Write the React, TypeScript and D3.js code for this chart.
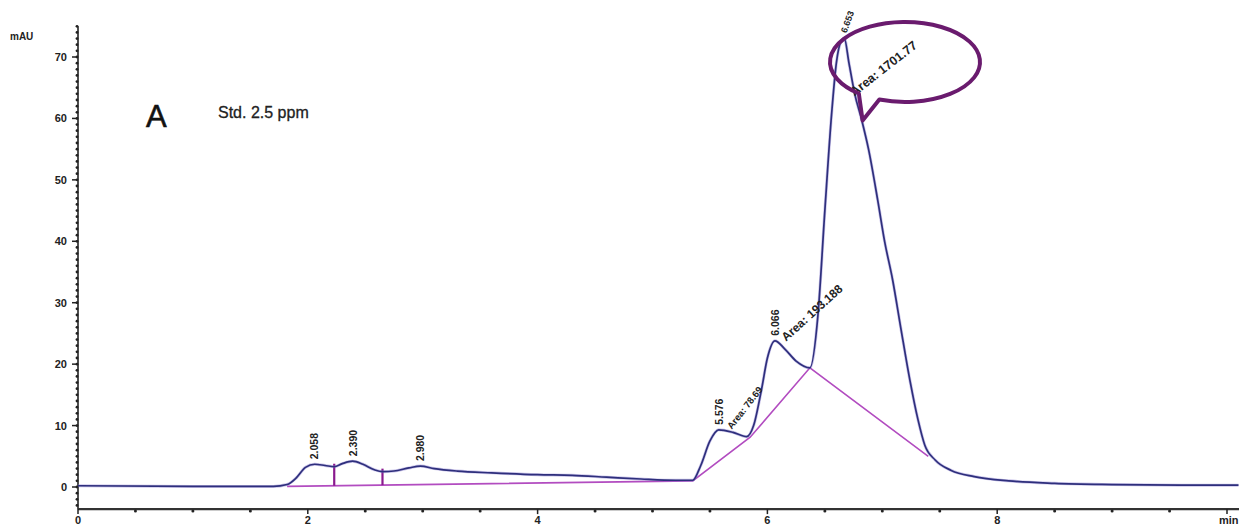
import React from "react";
import * as d3 from "d3";

// ---- data ----
const traceTime = [
  0, 1.0, 1.7, 1.82, 1.9, 1.98, 2.06, 2.15, 2.23, 2.3, 2.39, 2.48, 2.58, 2.65, 2.75, 2.88, 2.98,
  3.1, 3.3, 3.6, 4.0, 4.3, 4.6, 4.9, 5.2, 5.35, 5.42, 5.5, 5.576, 5.7, 5.82, 5.88, 5.95, 6.0,
  6.066, 6.15, 6.25, 6.37, 6.44, 6.5, 6.56, 6.6, 6.64, 6.67, 6.71, 6.76, 6.82, 6.88, 6.96,
  7.02, 7.09, 7.16, 7.24, 7.31, 7.37, 7.46, 7.6, 7.8, 8.1, 8.5, 9.0, 9.6, 10.1,
];
const traceSignal = [
  0.2, 0.1, 0.1, 0.4, 1.5, 3.2, 3.7, 3.5, 3.3, 3.8, 4.2, 3.7, 2.8, 2.5, 2.6, 3.1, 3.4,
  3.0, 2.6, 2.3, 2.0, 1.9, 1.6, 1.3, 1.1, 1.1, 3.5, 7.5, 9.3, 8.9, 8.2, 10, 16, 21,
  23.8, 22.5, 20.5, 19.4, 28, 45, 61, 69, 72.5, 73, 69, 64, 59.8, 55, 46.7,
  40, 33.7, 26, 17.4, 11, 6.8, 4.4, 2.7, 1.7, 1.0, 0.6, 0.4, 0.3, 0.3,
];

// integration baselines (purple)
const baselineTime = [1.82, 5.35, 5.85, 6.37, 7.4];
const baselineSignal = [0.1, 1.0, 8.1, 19.4, 5.0];
// peak split drop lines
const dropTimes = [2.23, 2.65];

const retentionTimes = [2.058, 2.39, 2.98, 5.576, 6.066, 6.653];
const retentionLabels = ["2.058", "2.390", "2.980", "5.576", "6.066", "6.653"];
const peakHeights = [3.7, 4.2, 3.4, 9.3, 23.8, 73];
const areaPeakIndex = [3, 4, 5];
const areaLabels = ["Area: 78.69", "Area: 193.188", "Area: 1701.77"];

const yMajorTicks = [0, 10, 20, 30, 40, 50, 60, 70];
const xMajorTicks = [0, 2, 4, 6, 8, 10];
const xTickLabels = ["0", "2", "4", "6", "8", "min"];

const W = 1239;
const H = 528;

export default function App() {
  const x = d3.scaleLinear().domain([0, 10.1]).range([78, 78 + 114.9 * 10.1]);
  const y = d3.scaleLinear().domain([0, 70]).range([487, 57]);

  const axisY = y(-3.6);
  const axisTop = y(75);

  const trace = traceTime.map((t, i) => [t, traceSignal[i]] as [number, number]);
  const line = d3
    .line<[number, number]>()
    .x((d) => x(d[0]))
    .y((d) => y(d[1]))
    .curve(d3.curveMonotoneX);

  const base = baselineTime.map((t, i) => [t, baselineSignal[i]] as [number, number]);
  const baseLine = d3
    .line<[number, number]>()
    .x((d) => x(d[0]))
    .y((d) => y(d[1]));

  const interp = (arrT: number[], arrV: number[], t: number) => {
    for (let i = 0; i < arrT.length - 1; i++) {
      if (t >= arrT[i] && t <= arrT[i + 1]) {
        const f = (t - arrT[i]) / (arrT[i + 1] - arrT[i]);
        return arrV[i] + f * (arrV[i + 1] - arrV[i]);
      }
    }
    return arrV[arrV.length - 1];
  };

  const yMinor = d3.range(-3, 76, 1);
  const xMinor = d3.range(0.5, 10.1, 0.5).filter((v) => Math.abs(v % 2) > 0.01);

  // speech bubble
  const cx = 905, cy = 62, rx = 75, ry = 40;
  const a1 = (110 * Math.PI) / 180;
  const a2 = (128 * Math.PI) / 180;
  const pt = (a: number) => [cx + rx * Math.cos(a), cy + ry * Math.sin(a)];
  const [sx, sy] = pt(a1);
  const [ex, ey] = pt(a2);
  const bubblePath = `M${sx},${sy} A${rx},${ry} 0 1 0 ${ex},${ey} L${x(6.82) + 1},${y(59.5) - 1} Z`;

  const font = "'Liberation Sans', Arial, sans-serif";
  const traceColor = "#2e2f7c";
  const baseColor = "#b24cc0";

  const areaStyle = [
    { ox: 13, oy: 0, rot: -52, fs: 9.5 },
    { ox: 11, oy: 1, rot: -42, fs: 12 },
    { ox: 12, oy: 58, rot: -38, fs: 12.5 },
  ];

  return (
    <svg
      width={W}
      height={H}
      style={{ position: "absolute", left: 0, top: 0, display: "block", background: "#fff" }}
      fontFamily={font}
    >
      {/* y axis */}
      <line x1={78} x2={78} y1={axisTop} y2={axisY} stroke="#222" strokeWidth={1.6} />
      {yMinor.map((v) => (
        <circle key={"ym" + v} cx={77} cy={y(v)} r={1.4} fill="#222" />
      ))}
      {yMajorTicks.map((v) => (
        <g key={"yt" + v}>
          <line x1={72} x2={78} y1={y(v)} y2={y(v)} stroke="#222" strokeWidth={1.5} />
          <text x={67} y={y(v) + 4} textAnchor="end" fontSize={11} fontWeight="bold" fill="#222">
            {v}
          </text>
        </g>
      ))}
      <text x={10} y={40} fontSize={10} fontWeight="bold" fill="#222">
        mAU
      </text>

      {/* x axis */}
      <line x1={78} x2={W} y1={axisY} y2={axisY} stroke="#333" strokeWidth={2.2} />
      {xMinor.map((v) => (
        <circle key={"xm" + v} cx={x(v)} cy={axisY + 2} r={1.5} fill="#222" />
      ))}
      {xMajorTicks.map((v, i) => (
        <g key={"xt" + v}>
          <line x1={x(v)} x2={x(v)} y1={axisY} y2={axisY + 5} stroke="#222" strokeWidth={1.5} />
          <text
            x={x(v)}
            y={axisY + 15}
            textAnchor={i === xMajorTicks.length - 1 ? "start" : "middle"}
            dx={i === xMajorTicks.length - 1 ? -8 : 0}
            fontSize={11}
            fontWeight="bold"
            fill="#222"
          >
            {xTickLabels[i]}
          </text>
        </g>
      ))}

      {/* baselines */}
      <path d={baseLine(base) || ""} fill="none" stroke={baseColor} strokeWidth={1.6} />
      {dropTimes.map((t) => (
        <line
          key={"dr" + t}
          x1={x(t)}
          x2={x(t)}
          y1={y(interp(baselineTime, baselineSignal, t))}
          y2={y(interp(traceTime, traceSignal, t)) - 3}
          stroke="#8a1a8e"
          strokeWidth={2.2}
        />
      ))}

      {/* trace */}
      <path d={line(trace) || ""} fill="none" stroke="#8c7fd0" strokeWidth={3} opacity={0.45} />
      <path d={line(trace) || ""} fill="none" stroke={traceColor} strokeWidth={1.7} />

      {/* retention time labels */}
      {retentionTimes.map((t, i) => {
        const px = x(t) + 4;
        const py = y(peakHeights[i]) - 5;
        return (
          <text
            key={"rt" + i}
            transform={`translate(${px},${py}) rotate(${i === 5 ? -70 : -90})`}
            fontSize={i === 5 ? 9 : 10.5}
            fontWeight="bold"
            fill="#222"
          >
            {retentionLabels[i]}
          </text>
        );
      })}

      {/* area labels */}
      {areaPeakIndex.map((pi, k) => {
        const t = retentionTimes[pi];
        const s = areaStyle[k];
        return (
          <text
            key={"ar" + k}
            transform={`translate(${x(t) + s.ox},${y(peakHeights[pi]) + s.oy}) rotate(${s.rot})`}
            fontSize={s.fs}
            fontWeight="bold"
            fill="#222"
          >
            {areaLabels[k]}
          </text>
        );
      })}

      {/* speech bubble */}
      <path d={bubblePath} fill="none" stroke="#6a1b6e" strokeWidth={4} strokeLinejoin="round" />

      {/* title */}
      <text x={146} y={127} fontSize={31} fill="#111" stroke="#111" strokeWidth={0.6}>
        A
      </text>
      <text x={218} y={118} fontSize={16} fill="#222" stroke="#222" strokeWidth={0.3}>
        Std. 2.5 ppm
      </text>
    </svg>
  );
}
